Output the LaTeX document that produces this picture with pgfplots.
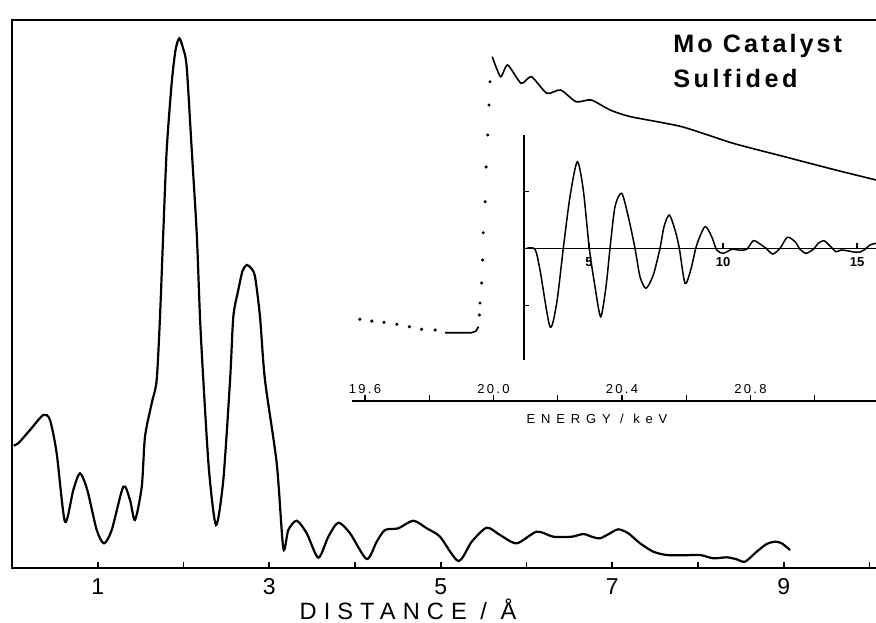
\documentclass[border=0pt]{standalone}
\usepackage{pgfplots}
\pgfplotsset{compat=1.18}
\usepackage{fontspec}
\setmainfont{Liberation Sans}
\begin{document}
\begin{tikzpicture}
% ---------------- main radial distribution ----------------
\begin{axis}[
  at={(6pt,27.25pt)}, anchor=south west,
  scale only axis, width=434pt, height=273.75pt,
  xmin=0, xmax=10.1224, ymin=0, ymax=547.5,
  axis line style={line width=1pt},
  xtick={1,3,5,7,9}, xticklabels={1,3,5,7,9},
  minor xtick={2,4,6,8,10},
  xtick pos=bottom, ytick=\empty,
  tick align=inside,
  major tick length=3pt, minor tick length=3pt,
  every tick/.style={black, line width=0.8pt},
  xticklabel style={font=\fontsize{11.5}{14}\selectfont, anchor=base, yshift=-13.3pt},
]
\addplot[black, line width=1.1pt, smooth, tension=0.45] coordinates {
(0.02,122)(0.073,124.2)(0.210,137.5)(0.365,152.5)(0.443,147.5)(0.521,114.2)(0.618,45.8)(0.715,77.5)(0.793,94.2)(0.878,77.5)(0.988,37.5)(1.073,24.2)(1.163,37.5)(1.298,80.8)(1.376,67.5)(1.434,47.5)(1.513,80.8)(1.551,130.8)(1.629,164.2)(1.687,187.5)(1.726,250.8)(1.764,334.5)(1.804,417.5)(1.862,484.2)(1.907,517.5)(1.951,529.2)(1.994,519.5)(2.037,500.8)(2.096,417.5)(2.154,334.5)(2.192,250.8)(2.231,187.5)(2.297,97.5)(2.379,42.5)(2.464,87.5)(2.543,187.5)(2.581,250.8)(2.639,277.5)(2.688,296.5)(2.737,302.5)(2.787,299.5)(2.834,290.8)(2.892,250.8)(2.950,187.5)(3.087,104.2)(3.164,19.2)(3.222,37.5)(3.320,46.8)(3.437,34.2)(3.572,9.8)(3.689,30.8)(3.805,44.8)(3.942,34.2)(4.136,8.5)(4.253,25.8)(4.350,37.5)(4.505,39.2)(4.680,46.8)(4.836,39.2)(4.991,30.8)(5.205,6.5)(5.361,25.8)(5.536,39.8)(5.691,32.5)(5.886,24.2)(6.119,35.8)(6.313,30.8)(6.527,30.8)(6.662,33.5)(6.760,30.8)(6.857,29.2)(6.974,34.2)(7.071,38.2)(7.187,34.2)(7.324,24.2)(7.479,15.8)(7.635,12.5)(7.829,12.2)(8.023,12.5)(8.178,9.2)(8.335,10.2)(8.451,8.2)(8.548,5.8)(8.684,15.8)(8.801,23.5)(8.898,25.8)(8.976,24.2)(9.073,17.5)
};
\end{axis}
% ---------------- inset: absorption vs energy ----------------
\begin{axis}[
  at={(176pt,110.5pt)}, anchor=south west,
  scale only axis, width=264pt, height=180.5pt,
  xmin=19.5595, xmax=21.2031, ymin=0, ymax=361,
  axis x line*=bottom, hide y axis,
  axis line style={line width=0.9pt, -},
  xtick={19.6,20.0,20.4,20.8}, xticklabels={19.6,20.0,20.4,20.8},
  minor xtick={19.8,20.2,20.6,21.0},
  tick align=inside,
  major tick length=3pt, minor tick length=3pt,
  every tick/.style={black, line width=0.7pt},
  xticklabel style={font=\fontsize{6.5}{8}\selectfont\addfontfeature{LetterSpace=18}, anchor=base, yshift=4pt},
]
\addplot[only marks, mark=*, mark size=0.6pt, black] coordinates {
(19.584,81.7)(19.621,80)(19.659,78.7)(19.699,76.7)(19.738,74.3)(19.776,71.7)(19.818,71)
};
\addplot[black, line width=0.8pt] coordinates {
(19.849,68.3)(19.932,68.3)(19.946,70)(19.953,74.3)
};
\addplot[only marks, mark=*, mark size=0.55pt, black] coordinates {
(19.956,86)(19.958,98)(19.963,118)(19.966,141)(19.968,168.3)(19.974,199.3)(19.977,234)(19.982,266)(19.986,296)(19.989,319.3)
};
\addplot[black, line width=0.8pt, smooth, tension=0.4] coordinates {
(19.996,344.3)(20.022,324.3)(20.044,336)(20.086,317.7)(20.118,324.3)(20.166,307.7)(20.209,311)(20.257,299.3)(20.304,301)(20.363,291)(20.427,284.3)(20.586,274.3)(20.746,257.7)(20.906,244.3)(21.065,231)(21.191,221)
};
\end{axis}
% ---------------- inset: EXAFS chi(k) ----------------
\begin{axis}[
  at={(262pt,131pt)}, anchor=south west,
  scale only axis, width=178pt, height=112.5pt,
  xmin=2.575, xmax=15.858, ymin=-111.7, ymax=113.3,
  axis x line=middle, axis y line=left,
  axis line style={line width=0.7pt, -},
  xtick={5,10,15}, xticklabels={5,10,15},
  ytick={-57,57}, yticklabels={},
  tick align=inside,
  major tick length=2.5pt,
  every tick/.style={black, line width=0.6pt},
  xticklabel style={font=\fontsize{6.5}{8}\selectfont\bfseries, anchor=base, yshift=-9.3pt},
]
\addplot[black, line width=0.75pt, smooth, tension=0.45] coordinates {
(2.675,0)(2.985,-1)(3.172,-21.7)(3.545,-78.4)(3.795,-54.7)(4.041,0)(4.291,51.6)(4.563,86.6)(4.787,58.3)(5.011,0)(5.224,-38.4)(5.437,-68.4)(5.634,-38.4)(5.784,0)(5.970,41.6)(6.220,55)(6.466,31.6)(6.716,0)(6.903,-28.4)(7.127,-40)(7.399,-26.7)(7.649,0)(7.799,21.6)(7.996,33.3)(8.209,18.3)(8.369,0)(8.582,-35)(8.795,-21.7)(9.019,3.3)(9.328,21.6)(9.578,11.6)(9.765,-1.7)(10.011,-5)(10.325,-1)(10.571,-1.7)(10.884,-1)(11.131,7.6)(11.381,4.3)(11.604,0)(11.854,-5.7)(12.127,0)(12.399,11)(12.687,6.6)(12.873,-1)(13.097,-5)(13.369,-1)(13.556,5)(13.769,7.6)(14.019,1.6)(14.216,-3.4)(14.403,-1.7)(14.616,-2.4)(14.888,-3.7)(15.112,-3.7)(15.299,-1)(15.485,3.3)(15.709,5)
};
\end{axis}
% ---------------- texts ----------------
\node[anchor=base west, inner sep=0pt, font=\fontsize{12.6}{15}\selectfont\bfseries\addfontfeature{LetterSpace=12}] at (336.5pt,284.5pt) {Mo Catalyst};
\node[anchor=base west, inner sep=0pt, font=\fontsize{12.6}{15}\selectfont\bfseries\addfontfeature{LetterSpace=14}] at (336.5pt,267pt) {Sulfided};
\node[anchor=base, inner sep=0pt, font=\fontsize{11.8}{14}\selectfont\addfontfeature{LetterSpace=30}] at (204pt,1.5pt) {DISTANCE / Å};
\node[anchor=base, inner sep=0pt, font=\fontsize{6.5}{8}\selectfont\addfontfeature{LetterSpace=45}] at (298.5pt,99.5pt) {ENERGY / keV};
\pgfresetboundingbox
\useasboundingbox (0,0) rectangle (438pt,311pt);
\end{tikzpicture}
\end{document}
